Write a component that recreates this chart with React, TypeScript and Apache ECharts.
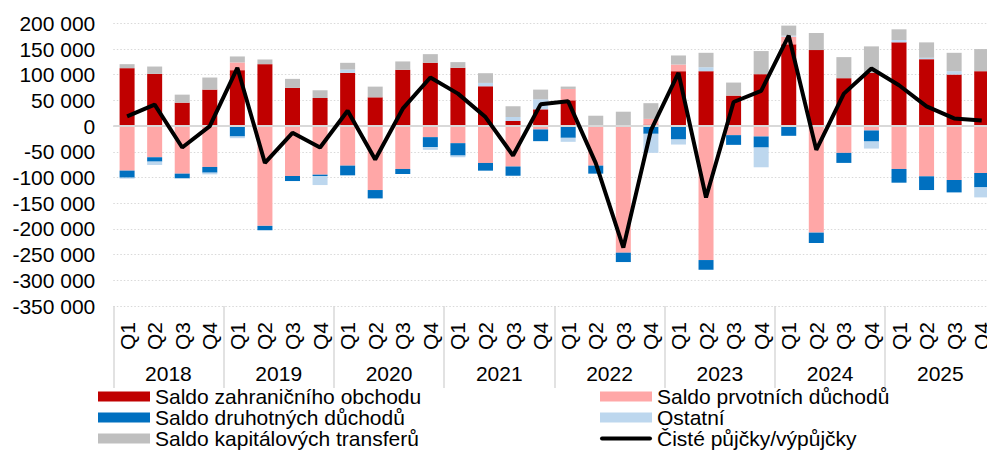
import React, { useEffect, useRef } from "react";
import * as echarts from "echarts";

const quarters = [
  "Q1","Q2","Q3","Q4","Q1","Q2","Q3","Q4","Q1","Q2","Q3","Q4","Q1","Q2","Q3","Q4",
  "Q1","Q2","Q3","Q4","Q1","Q2","Q3","Q4","Q1","Q2","Q3","Q4","Q1","Q2","Q3","Q4",
];
const years = ["2018", "2019", "2020", "2021", "2022", "2023", "2024", "2025"];

const tradeBalance = [
  112700, 101600, 45600, 71000, 108800, 120500, 74300, 54700,
  103600, 56000, 109500, 123100, 113400, 77500, 9800, 32600,
  50200, 0, 0, 3000, 106800, 106800, 59300, 101000,
  159000, 147900, 93200, 103600, 162900, 130300, 100300, 106800,
];
const primaryIncome = [
  -86600, -60600, -92500, -79500, 15000, -194100, -97100, -94500,
  -76900, -124400, -83400, -21500, -33200, -71700, -78800, -6500,
  22100, -76900, -246300, 11000, 13000, -260600, -17600, -20200,
  15000, -207200, -52100, -8500, -83400, -97700, -104900, -91200,
];
const secondaryIncome = [
  -13700, -8500, -9100, -11100, -20200, -8500, -9800, -2600,
  -18900, -16300, -9800, -19500, -24100, -15000, -17600, -22800,
  -22800, -15600, -18200, -15000, -26100, -18900, -18900, -21500,
  -18900, -20200, -19500, -21500, -26700, -26700, -24100, -28000,
];
const other = [
  -2000, -6500, -1300, -3300, -3300, 0, 0, -17600,
  6500, 0, 0, -5200, -3300, 6500, 7800, 19500,
  -7800, 0, 0, -37100, -9800, 7800, 0, -38400,
  2000, 0, 0, -13700, 4600, 2600, 6500, -19500,
];
const capitalTransfers = [
  7800, 14300, 15600, 23500, 11700, 9100, 17600, 15000,
  13000, 20800, 16300, 16900, 11100, 18900, 20800, 18900,
  4600, 20200, 28000, 30600, 17600, 28000, 25400, 45000,
  19500, 33200, 41000, 51500, 20800, 30000, 35800, 43000,
];
const netLending = [
  18900, 41700, -41700, 0, 113400, -71700, -13000, -41700,
  30000, -65000, 33900, 94500, 63200, 17600, -57300, 42300,
  48200, -72000, -236500, -8500, 103600, -138800, 46900, 68400,
  175900, -46300, 63200, 112100, 79500, 38400, 15000, 11100,
];

const names = {
  trade: "Saldo zahraničního obchodu",
  primary: "Saldo prvotních důchodů",
  secondary: "Saldo druhotných důchodů",
  other: "Ostatní",
  capital: "Saldo kapitálových transferů",
  net: "Čisté půjčky/výpůjčky",
};

const FONT = "'Liberation Sans', Arial, sans-serif";

function fmt(v: number): string {
  const s = String(Math.abs(v)).replace(/\B(?=(\d{3})+(?!\d))/g, " ");
  return (v < 0 ? "-" : "") + s;
}

export default function App() {
  const ref = useRef<HTMLDivElement>(null);
  useEffect(() => {
    if (!ref.current) return;
    const chart = echarts.init(ref.current, undefined, { renderer: "svg" });
    const barBase = (name: string, data: number[], color: string) => ({
      name,
      type: "bar",
      stack: "total",
      data,
      barWidth: 15,
      itemStyle: { color },
      xAxisIndex: 0,
      yAxisIndex: 0,
    });
    const legendText = { fontFamily: FONT, fontSize: 21, color: "#000", lineHeight: 21 };
    chart.setOption({
      animation: false,
      textStyle: { fontFamily: FONT },
      grid: { left: 113.3, right: 4.5, top: 23.3, bottom: 144 },
      legend: [
        {
          orient: "vertical",
          left: 98,
          top: 386,
          itemWidth: 52,
          itemHeight: 10,
          itemGap: 0,
          padding: 0,
          icon: "rect",
          textStyle: legendText,
          data: [names.trade, names.secondary, names.capital],
        },
        {
          orient: "vertical",
          left: 600,
          top: 386,
          itemWidth: 52,
          itemHeight: 10,
          itemGap: 0,
          padding: 0,
          symbolKeepAspect: true,
          textStyle: legendText,
          data: [
            { name: names.primary, icon: "rect" },
            { name: names.other, icon: "rect" },
            {
              name: names.net,
              icon: "path://M2,0H50A2,2 0 0 1 50,4H2A2,2 0 0 1 2,0Z",
              itemStyle: { color: "#000", borderWidth: 0 },
            },
          ],
        },
      ],
      xAxis: [
        {
          type: "category",
          data: quarters,
          position: "bottom",
          axisLine: { show: false },
          axisTick: { show: false },
          axisLabel: {
            rotate: 90,
            interval: 0,
            margin: 16,
            fontSize: 21,
            color: "#000",
            fontFamily: FONT,
          },
        },
        {
          type: "category",
          data: years,
          position: "bottom",
          axisLine: { show: false },
          axisTick: {
            show: true,
            length: 82,
            interval: 0,
            lineStyle: { color: "#d9d9d9", width: 1.5 },
          },
          axisLabel: {
            interval: 0,
            margin: 57,
            fontSize: 21,
            color: "#000",
            fontFamily: FONT,
          },
        },
      ],
      yAxis: {
        type: "value",
        min: -350000,
        max: 200000,
        interval: 50000,
        axisLine: { show: false },
        axisTick: { show: false },
        splitLine: { lineStyle: { color: "#d9d9d9", type: [1.5, 2], width: 1 } },
        axisLabel: {
          formatter: (v: number) => fmt(v),
          fontSize: 21,
          color: "#000",
          margin: 18,
          fontFamily: FONT,
        },
      },
      series: [
        {
          ...barBase(names.trade, tradeBalance, "#C00000"),
          markLine: {
            silent: true,
            symbol: "none",
            label: { show: false },
            lineStyle: { color: "#d9d9d9", type: "solid", width: 2 },
            data: [{ yAxis: 0 }],
            z: 5,
          },
        },
        barBase(names.primary, primaryIncome, "#FFA7A7"),
        barBase(names.secondary, secondaryIncome, "#0070C0"),
        barBase(names.other, other, "#BDD7EE"),
        barBase(names.capital, capitalTransfers, "#BFBFBF"),
        {
          name: names.net,
          type: "line",
          data: netLending,
          symbol: "none",
          lineStyle: { color: "#000", width: 4 },
          itemStyle: { color: "#000" },
          z: 10,
        },
      ],
    });
    return () => chart.dispose();
  }, []);
  return (
    <div
      style={{
        position: "absolute",
        left: 0,
        top: 0,
        width: 987,
        height: 450,
        overflow: "hidden",
        background: "#fff",
      }}
    >
      <div ref={ref} style={{ width: 1000, height: 450 }} />
    </div>
  );
}
